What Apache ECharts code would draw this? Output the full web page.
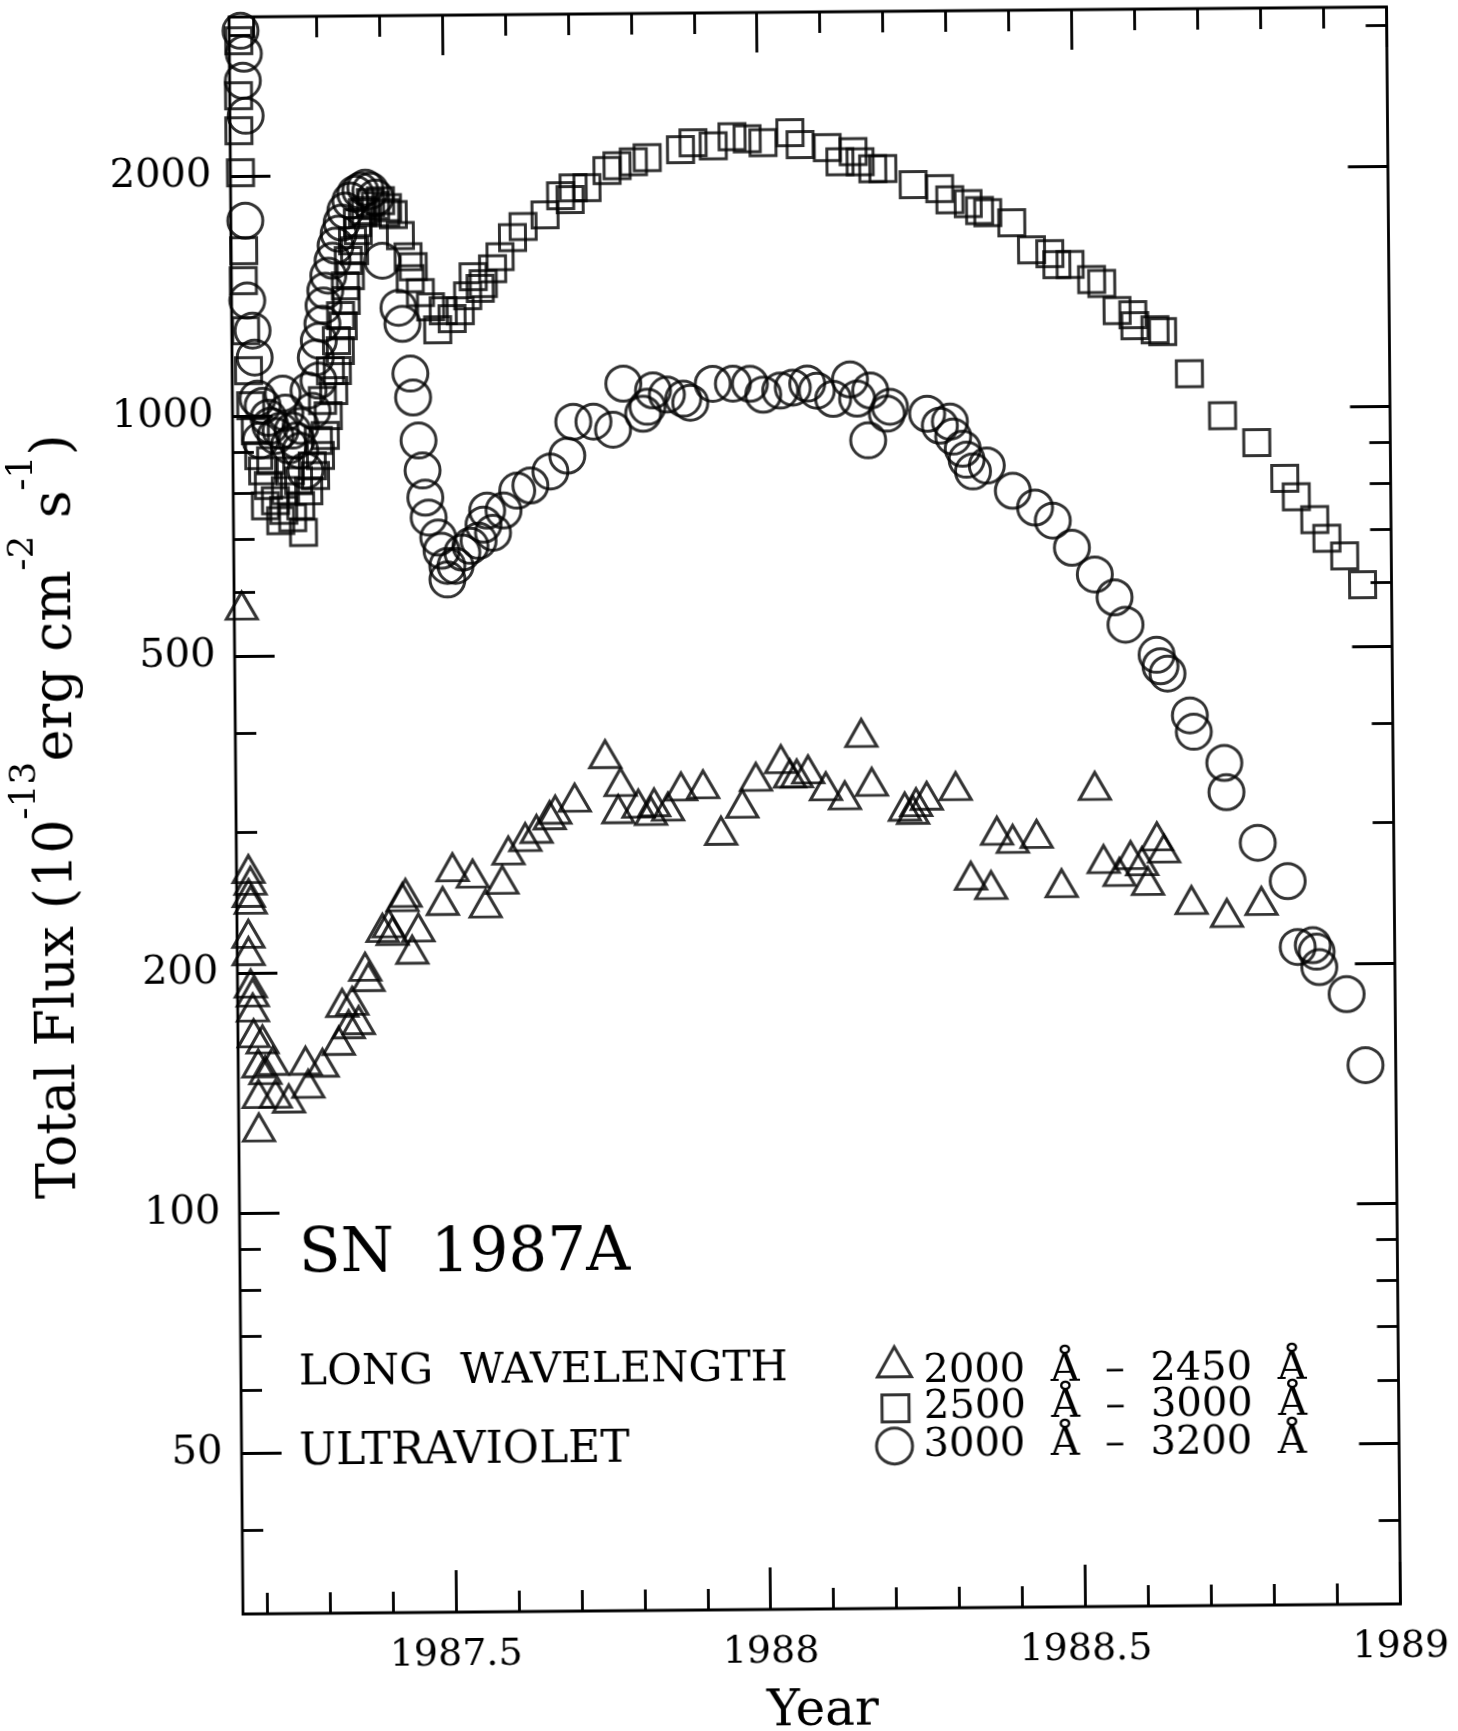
<!DOCTYPE html>
<html><head><meta charset="utf-8">
<script src="https://cdn.jsdelivr.net/npm/echarts@6.0.0/dist/echarts.min.js"></script>
<style>
html,body{margin:0;padding:0;background:#fff;}
#main{width:1458px;height:1731px;transform:rotate(-0.5deg);transform-origin:815px 810px;background:#fff;}
</style>
</head><body><div id="main"></div>
<script>
// ---- axis ticks ----
const xTickMajor = [1987.5, 1988, 1988.5, 1989];
const xTickMinor = [1987.2, 1987.3, 1987.4, 1987.6, 1987.7, 1987.8, 1987.9, 1988.1, 1988.2, 1988.3, 1988.4, 1988.6, 1988.7, 1988.8, 1988.9];
const yTickMajor = [50, 100, 200, 500, 1000, 2000];
const yTickMinor = [40, 60, 70, 80, 90, 300, 400, 600, 700, 800, 900, 3000];
const X_MIN = 1987.162, X_MAX = 1989;
const Y_MIN = 31.4, Y_MAX = 3165;

// ---- series names ----
const triName = '2000  Å  –  2450  Å';
const sqName = '2500  Å  –  3000  Å';
const cirName = '3000  Å  –  3200  Å';

// ---- 2000-2450 A (triangles) ----
const triYear = [1987.174,1987.181,1987.184,1987.181,1987.184,1987.180,1987.180,1987.183,1987.186,1987.186,1987.187,1987.201,1987.194,1987.217,1987.205,1987.194,1987.221,1987.242,1987.194,1987.269,1987.296,1987.273,1987.322,1987.338,1987.328,1987.344,1987.354,1987.370,1987.365,1987.393,1987.403,1987.425,1987.430,1987.409,1987.450,1987.440,1987.489,1987.505,1987.537,1987.557,1987.584,1987.594,1987.621,1987.639,1987.660,1987.669,1987.700,1987.749,1987.773,1987.769,1987.801,1987.821,1987.826,1987.848,1987.869,1987.904,1987.932,1987.966,1987.988,1988.028,1988.042,1988.053,1988.071,1988.099,1988.129,1988.156,1988.172,1988.224,1988.237,1988.242,1988.259,1988.305,1988.328,1988.360,1988.370,1988.395,1988.433,1988.472,1988.526,1988.539,1988.564,1988.582,1988.600,1988.609,1988.624,1988.635,1988.678,1988.734,1988.789];
const triFlux = [578,270,261,252,247,224,213,194,189,181,168,165,154,155,151,141,141,139,128,155,154,145,164,172,183,184,174,197,203,227,230,248,251,225,227,213,245,270,265,243,260,283,294,301,313,318,329,373,344,318,323,316,324,320,339,341,298,322,348,366,351,351,355,338,329,394,342,318,315,322,328,337,260,253,296,289,293,254,336,272,262,275,270,255,290,280,241,232,240];

// ---- 2500-3000 A (squares) ----
const sqYear = [1987.177,1987.176,1987.176,1987.178,1987.182,1987.181,1987.184,1987.188,1987.191,1987.198,1987.203,1987.209,1987.218,1987.229,1987.242,1987.256,1987.273,1987.269,1987.282,1987.293,1987.301,1987.309,1987.314,1987.323,1987.329,1987.334,1987.339,1987.344,1987.351,1987.358,1987.364,1987.371,1987.384,1987.400,1987.411,1987.420,1987.431,1987.443,1987.451,1987.446,1987.462,1987.478,1987.489,1987.498,1987.512,1987.525,1987.537,1987.546,1987.557,
1987.266,1987.288,1987.298,1987.305,1987.318,1987.328,1987.335,1987.343,1987.348,1987.355,1987.363,1987.376,1987.392,1987.408,1987.213,1987.237,1987.222,1987.245,1987.253,
1987.562,1987.577,1987.589,1987.609,1987.626,1987.661,1987.686,1987.701,1987.706,1987.728,1987.760,1987.776,1987.802,1987.824,1987.877,1987.897,1987.929,1987.959,1987.983,1988.008,1988.051,1988.067,1988.110,1988.130,1988.151,1988.162,1988.182,1988.198,1988.246,1988.288,1988.304,1988.333,1988.351,1988.364,1988.402,1988.433,1988.462,1988.473,1988.494,1988.528,1988.544,1988.568,1988.593,1988.596,1988.628,1988.640,1988.682,1988.734,1988.788,1988.832,1988.850,1988.879,1988.898,1988.926,1988.954];
const sqFlux = [2955,2521,2279,2018,1611,1477,1279,1139,1030,958,891,853,817,782,760,744,713,770,804,840,890,943,998,1073,1137,1204,1294,1391,1495,1607,1702,1793,1845,1855,1818,1781,1676,1577,1532,1480,1421,1364,1276,1348,1317,1347,1407,1486,1436,
828,864,929,1043,1137,1240,1332,1452,1562,1654,1742,1803,1829,1792,771,738,878,805,852,
1456,1520,1573,1662,1715,1774,1874,1852,1916,1916,2012,2040,2063,2086,2133,2176,2156,2212,2198,2172,2235,2158,2138,2052,2112,2051,2010,2010,1917,1894,1834,1812,1776,1765,1713,1584,1565,1516,1516,1451,1434,1326,1310,1269,1253,1246,1103,976,902,813,771,721,683,649,597];

// ---- 3000-3200 A (circles) ----
const cirYear = [1987.180,1987.185,1987.183,1987.187,1987.185,1987.187,1987.195,1987.198,1987.202,1987.219,1987.242,1987.246,1987.257,1987.230,1987.270,1987.283,1987.295,1987.306,1987.311,1987.323,1987.333,1987.344,1987.360,1987.376,1987.392,1987.402,1987.427,1987.433,1987.445,1987.449,1987.457,1987.463,1987.467,1987.472,1987.487,1987.492,1987.501,1987.501,1987.514,1987.525,1987.538,1987.551,1987.559,1987.574,1987.565,1987.591,1987.613,1987.634,1987.666,1987.693,1987.703,1987.735,1987.766,1987.783,1987.814,1987.821,1987.830,1987.852,1987.878,1987.889,1987.925,1987.957,1987.984,1988.005,1988.032,1988.052,1988.075,1988.090,1988.116,1988.143,1988.154,1988.171,1988.175,1988.201,1988.206,1988.265,1988.285,1988.306,1988.327,1988.337,1988.301,1988.321,1988.359,1988.400,1988.435,1988.463,1988.493,1988.529,1988.560,1988.577,1988.626,1988.632,1988.643,1988.678,1988.684,1988.732,1988.735,1988.784,1988.831,1988.846,1988.870,1988.876,1988.880,1988.923,1988.952,
1987.277,1987.269,1987.289,1987.299,1987.300,1987.308,1987.316,1987.328,1987.338,1987.352,1987.368,1987.384,1987.210,1987.222,1987.238,1987.251,1987.263,1987.206];
const cirFlux = [3041,2846,2632,2379,1757,1395,1279,1183,1051,994,1065,1008,957,943,970,1074,1181,1302,1432,1562,1688,1804,1894,1927,1872,1560,1361,1299,1125,1050,927,850,786,742,700,674,645,620,645,670,683,693,726,709,756,756,800,812,845,884,975,975,952,1087,996,1016,1065,1052,1039,1027,1084,1084,1083,1049,1061,1070,1082,1060,1035,1094,1035,917,1059,990,1010,989,955,925,865,836,966,893,850,790,752,724,669,619,579,535,490,474,464,411,392,358,329,284,254,210,211,207,198,183,149,
852,903,1013,1105,1240,1372,1496,1631,1743,1857,1910,1910,1029,971,957,917,930,931];

function pairs(xs, ys) { return xs.map((x, i) => [x, ys[i]]); }
const lg = v => Math.log10(v);
const FONT = 'DejaVu Serif';
const BLACK = '#000';
const LW = 3;
const hollow = { color: 'rgba(0,0,0,0)', borderColor: BLACK, borderWidth: LW };

function xAx(pos, ticks, len, labels) {
  return {
    type: 'value', min: X_MIN, max: X_MAX, position: pos,
    axisLine: { show: false }, splitLine: { show: false },
    axisTick: { show: true, inside: true, length: len, customValues: ticks, lineStyle: { color: BLACK, width: 2.8 } },
    axisLabel: labels ? { show: true, customValues: ticks, margin: 24, fontFamily: FONT, fontSize: 38, color: BLACK, showMinLabel: true, showMaxLabel: true, formatter: v => String(v) } : { show: false }
  };
}
function yAx(pos, ticks, len, labels) {
  const vals = ticks.map(lg);
  return {
    type: 'value', min: lg(Y_MIN), max: lg(Y_MAX), position: pos,
    axisLine: { show: false }, splitLine: { show: false },
    axisTick: { show: true, inside: true, length: len, customValues: vals, lineStyle: { color: BLACK, width: 2.8 } },
    axisLabel: labels ? { show: true, customValues: vals, margin: 19, fontFamily: FONT, fontSize: 40, color: BLACK, showMinLabel: true, showMaxLabel: true, formatter: v => String(Math.round(Math.pow(10, v))) } : { show: false }
  };
}

function legendFor(name, icon, left, top, w, h, padLeft) {
  return {
    data: [{ name: name, icon: icon }], left: left, top: top, orient: 'vertical', padding: 0, itemGap: 0,
    itemWidth: w, itemHeight: h, selectedMode: false,
    itemStyle: { color: 'rgba(0,0,0,0)', borderColor: BLACK, borderWidth: LW },
    textStyle: { fontFamily: FONT, fontSize: 40, color: BLACK, padding: [0, 0, 0, padLeft] }
  };
}

const chart = echarts.init(document.getElementById('main'), null, { renderer: 'canvas' });
chart.setOption({
  animation: false,
  backgroundColor: '#fff',
  textStyle: { fontFamily: FONT, color: BLACK },
  grid: { left: 236, top: 12, width: 1157.5, height: 1597, show: true, borderColor: BLACK, borderWidth: 2.8, backgroundColor: 'rgba(0,0,0,0)', containLabel: false },
  xAxis: [
    { type: 'value', min: X_MIN, max: X_MAX, show: false },
    xAx('bottom', xTickMajor, 42, true),
    xAx('bottom', xTickMinor, 21, false),
    xAx('top', xTickMajor, 40, false),
    xAx('top', xTickMinor, 21, false)
  ],
  yAxis: [
    { type: 'log', logBase: 10, min: Y_MIN, max: Y_MAX, show: false },
    yAx('left', yTickMajor, 40, true),
    yAx('left', yTickMinor, 21, false),
    yAx('right', yTickMajor, 40, false),
    yAx('right', yTickMinor, 21, false)
  ],
  legend: [
    // triangle drawn in the upper part of a taller icon box so the label sits a little lower than the marker
    legendFor(triName, 'path://M17,0L34,30L0,30Z M17,50', 871, 1346, 34, 50, 7),
    legendFor(sqName, 'rect', 875.3, 1389, 27, 27, 10),
    legendFor(cirName, 'circle', 869.5, 1426.7, 36, 36, 6)
  ],
  series: [
    { name: triName, type: 'scatter', xAxisIndex: 0, yAxisIndex: 0, symbol: 'triangle', symbolSize: [31, 27], itemStyle: hollow, data: pairs(triYear, triFlux), clip: true },
    { name: sqName, type: 'scatter', xAxisIndex: 0, yAxisIndex: 0, symbol: 'rect', symbolSize: 26, itemStyle: hollow, data: pairs(sqYear, sqFlux), clip: true },
    { name: cirName, type: 'scatter', xAxisIndex: 0, yAxisIndex: 0, symbol: 'circle', symbolSize: 35, itemStyle: hollow, data: pairs(cirYear, cirFlux), clip: true }
  ],
  graphic: { elements: [
    { type: 'text', x: 58, y: 810, rotation: Math.PI / 2, silent: true,
      style: { text: '{n|Total Flux (10}{s|-13}{n|erg cm}{s|-2}{n| s}{s|-1}{n|)}', align: 'center', verticalAlign: 'middle', fill: BLACK,
        rich: { n: { fontFamily: FONT, fontSize: 54, lineHeight: 100, fill: BLACK }, s: { fontFamily: FONT, fontSize: 36, lineHeight: 36, verticalAlign: 'top', fill: BLACK } } } },
    { type: 'text', x: 815, y: 1712, silent: true, style: { text: 'Year', fontFamily: FONT, fontSize: 50, fill: BLACK, align: 'center', verticalAlign: 'middle' } },
    { type: 'text', x: 295, y: 1251, silent: true, style: { text: 'SN', fontFamily: FONT, fontSize: 61, fill: BLACK, align: 'left', verticalAlign: 'middle' } },
    { type: 'text', x: 427, y: 1252.5, silent: true, style: { text: '1987A', fontFamily: FONT, fontSize: 61, fill: BLACK, align: 'left', verticalAlign: 'middle' } },
    { type: 'text', x: 294, y: 1368.5, silent: true, style: { text: 'LONG  WAVELENGTH', fontFamily: FONT, fontSize: 42.5, fill: BLACK, align: 'left', verticalAlign: 'middle' } },
    { type: 'text', x: 293.4, y: 1448.5, silent: true, style: { text: 'ULTRAVIOLET', fontFamily: FONT, fontSize: 44, fill: BLACK, align: 'left', verticalAlign: 'middle' } }
  ] }
});
</script>
</body></html>
